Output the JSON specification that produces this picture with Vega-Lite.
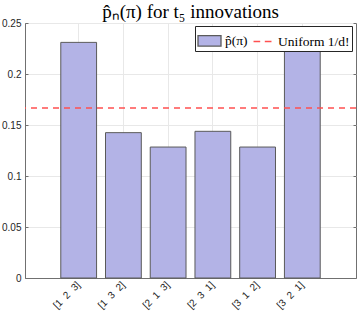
{
  "$schema": "https://vega.github.io/schema/vega-lite/v6.json",
  "width": 331,
  "height": 255,
  "autosize": "none",
  "padding": {"left": 25, "top": 23, "right": 1, "bottom": 38},
  "background": "white",
  "config": {
    "view": {"stroke": "#707070", "strokeWidth": 1},
    "axis": {
      "labelFont": "Liberation Sans",
      "labelFontSize": 10,
      "labelColor": "#262626",
      "domainColor": "#707070",
      "tickColor": "#707070",
      "gridColor": "#e8e8e8"
    },
    "legend": {
      "title": null,
      "orient": "none",
      "legendX": 170,
      "legendY": 3,
      "direction": "horizontal",
      "padding": 2,
      "strokeColor": "#262626",
      "fillColor": "white",
      "labelFont": "Liberation Serif",
      "labelFontSize": 13.5,
      "labelColor": "#000000",
      "labelOffset": 3,
      "columnPadding": 2,
      "symbolSize": 529,
      "symbolOpacity": 1,
      "symbolStrokeWidth": 1.3
    }
  },
  "title": {
    "text": "p̂ₙ(π) for t₅ innovations",
    "font": "Liberation Serif",
    "fontSize": 19,
    "fontWeight": "normal",
    "color": "#000000",
    "anchor": "middle",
    "offset": 0,
    "dy": 4
  },
  "datasets": {
    "bars": [
      {"perm": "[1 \u00a02 \u00a03]", "p": 0.231, "series": "p̂(π)"},
      {"perm": "[1 \u00a03 \u00a02]", "p": 0.1425, "series": "p̂(π)"},
      {"perm": "[2 \u00a01 \u00a03]", "p": 0.1284, "series": "p̂(π)"},
      {"perm": "[2 \u00a03 \u00a01]", "p": 0.1438, "series": "p̂(π)"},
      {"perm": "[3 \u00a01 \u00a02]", "p": 0.1284, "series": "p̂(π)"},
      {"perm": "[3 \u00a02 \u00a01]", "p": 0.228, "series": "p̂(π)"}
    ],
    "uniform": [
      {"u": 0.16667, "series": "Uniform 1/d!"}
    ]
  },
  "resolve": {"axis": {"y": "independent"}},
  "layer": [
    {
      "data": {"name": "bars"},
      "mark": {"type": "bar", "strokeWidth": 1},
      "encoding": {
        "x": {
          "field": "perm",
          "type": "nominal",
          "sort": null,
          "scale": {"paddingInner": 0.2, "paddingOuter": 0.8},
          "axis": {
            "title": null,
            "labelAngle": 315,
            "labelAlign": "right",
            "labelBaseline": "middle",
            "labelFontSize": 10,
            "labelPadding": 8,
            "tickSize": -3,
            "grid": true,
            "domain": true
          }
        },
        "y": {
          "field": "p",
          "type": "quantitative",
          "scale": {"domain": [0, 0.25], "nice": false, "zero": true},
          "axis": {
            "title": null,
            "orient": "left",
            "values": [0, 0.05, 0.1, 0.15, 0.2, 0.25],
            "format": ".2~f",
            "tickSize": -3,
            "labelPadding": 7,
            "grid": true
          }
        },
        "fill": {
          "field": "series",
          "type": "nominal",
          "scale": {"domain": ["p̂(π)", "Uniform 1/d!"], "range": ["#b3b3e6", "#ff5050"]},
          "legend": {
            "symbolType": {"expr": "datum.value === 'Uniform 1/d!' ? 'M-0.78,0H-0.2M0.2,0H0.78' : 'M-1,-0.45H1V0.45H-1Z'"}
          }
        },
        "stroke": {
          "field": "series",
          "type": "nominal",
          "scale": {"domain": ["p̂(π)", "Uniform 1/d!"], "range": ["#5a5a5a", "#ff5050"]},
          "legend": {
            "symbolType": {"expr": "datum.value === 'Uniform 1/d!' ? 'M-0.78,0H-0.2M0.2,0H0.78' : 'M-1,-0.45H1V0.45H-1Z'"}
          }
        }
      }
    },
    {
      "data": {"name": "uniform"},
      "mark": {"type": "rule", "color": "#ff5050", "strokeWidth": 1.5, "strokeDash": [6, 5]},
      "encoding": {
        "y": {
          "field": "u",
          "type": "quantitative",
          "axis": {
            "title": null,
            "orient": "right",
            "labels": false,
            "grid": false,
            "domain": false,
            "tickSize": -3,
            "values": [0, 0.05, 0.1, 0.15, 0.2, 0.25]
          }
        }
      }
    }
  ]
}
